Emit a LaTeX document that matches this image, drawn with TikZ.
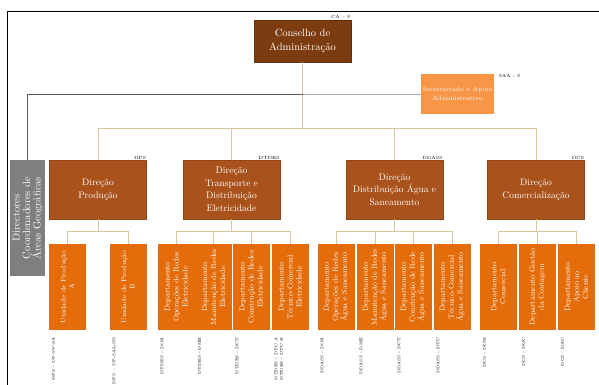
\documentclass[tikz,border=0pt]{standalone}
\usetikzlibrary{positioning}
\definecolor{cabrown}{HTML}{7D3C10}
\definecolor{dirbrown}{HTML}{A9521C}
\definecolor{unitorange}{HTML}{E46C0A}
\definecolor{saaorange}{HTML}{F79646}
\definecolor{gdirgray}{HTML}{7F7F7F}
\definecolor{linktan}{HTML}{D8C79B}
\begin{document}
\begin{tikzpicture}[x=1pt,y=-1pt,
  board/.style={rectangle,fill=cabrown,draw=cabrown!80!black,text=white,align=center,minimum width=97pt,minimum height=42pt,font=\fontsize{10.5}{14}\selectfont},
  staff/.style={rectangle,fill=saaorange,text=white,align=center,minimum width=71pt,minimum height=40pt,inner sep=1pt,font=\fontsize{6.3}{9}\selectfont},
  area/.style={rectangle,rotate=90,fill=gdirgray,text=white,align=center,minimum width=116pt,minimum height=35pt,inner sep=1pt,font=\fontsize{10.5}{10.5}\selectfont},
  dir/.style={rectangle,fill=dirbrown,draw=dirbrown!85!black,text=white,align=center,minimum width=97pt,minimum height=59pt,font=\fontsize{9.5}{12.5}\selectfont},
  unit/.style={rectangle,rotate=90,fill=unitorange,text=white,align=center,minimum width=86pt,minimum height=37pt,inner sep=1pt,font=\fontsize{7.5}{9}\selectfont},
  plant/.style={unit,font=\fontsize{6.8}{8.5}\selectfont},
  tag/.style={inner sep=0.5pt,font=\fontsize{4.5}{5}\selectfont},
  code/.style={rotate=90,inner sep=0pt,align=left,font=\fontsize{4.1}{5.5}\selectfont},
  link/.style={draw=linktan,line width=0.8pt},
  darklink/.style={draw=black!65,line width=0.8pt}]

  \pgfmathsetmacro{\ydir}{189.5} ;
  \pgfmathsetmacro{\yunit}{287} ;

  \useasboundingbox (0,0) rectangle (599,385) ;
  \draw[line width=1pt] (7,385) -- (7,12) -- (599,12) ;

  \node[board] at (302.5, 41)   (ca)    {Conselho de\\Administração} ;
  \node[staff] at (457.5, 94)   (saa)   {Secretariado e Apoio\\Administrativo} ;
  \node[area]  at ( 27.5, 218)  (gdir)  {Directores\\Coordenadores de\\Áreas Geográficas} ;

  \node[dir] at ( 98,   \ydir) (dp)    {Direção\\Produção} ;
  \node[dir] at (231.5, \ydir) (dtde)  {Direção\\Transporte e\\Distribuição\\Eletricidade} ;
  \node[dir] at (394.5, \ydir) (ddass) {Direção\\Distribuição Água e\\Saneamento} ;
  \node[dir] at (536,   \ydir) (dc)    {Direção\\Comercialização} ;

  \node[tag,anchor=south east]           at (ca.north east)    (catag)    {CA -- S} ;
  \node[tag,anchor=north west,xshift=4pt] at (saa.north east)  (saatag)   {SAA - S} ;
  \node[tag,anchor=south east]           at (dp.north east)    (dptag)    {DPS} ;
  \node[tag,anchor=south east]           at (dtde.north east)  (dtdetag)  {DTDES} ;
  \node[tag,anchor=south east]           at (ddass.north east) (ddasstag) {DDASS} ;
  \node[tag,anchor=south east]           at (dc.north east)    (dctag)    {DCS} ;

  \node[plant] at ( 67.5, \yunit) (upa)  {Unidade de Produção\\A} ;
  \node[plant] at (128,   \yunit) (upb)  {Unidade de Produção\\B} ;

  \node[unit] at (176,   \yunit) (edor)  {Departamento\\Operações de Redes\\Eletricidade} ;
  \node[unit] at (213.5, \yunit) (edme)  {Departamento\\Manutenção de Redes\\Eletricidade} ;
  \node[unit] at (251,   \yunit) (edct)  {Departamento\\Construção de Redes\\Eletricidade} ;
  \node[unit] at (290,   \yunit) (edtc)  {Departamento\\Técnico-Comercial\\Eletricidade} ;

  \node[unit] at (336,   \yunit) (ador)  {Departamento\\Operações de Redes\\Água e Saneamento} ;
  \node[unit] at (375,   \yunit) (adme)  {Departamento\\Manutenção de Redes\\Água e Saneamento} ;
  \node[unit] at (413,   \yunit) (adct)  {Departamento\\Construção de Rede\\Água e Saneamento} ;
  \node[unit] at (452,   \yunit) (adtc)  {Departamento\\Técnico-Comercial\\Água e Saneamento} ;

  \node[unit] at (498.5, \yunit) (cdcm)  {Departamento\\Comercial} ;
  \node[unit] at (537.5, \yunit) (cdgc)  {Departamento Gestão\\da Contagem} ;
  \node[unit] at (576.5, \yunit) (cdac)  {Departamento\\Apoio ao\\Cliente} ;

  \node[code,anchor=north east] at ([shift={(3,7)}]upa.north west)  (upacode)  {DPS -- UP-SV-SA} ;
  \node[code,anchor=north east] at ([shift={(3,7)}]upb.north west)  (upbcode)  {DPS -- UP-SAL-SN} ;
  \node[code,anchor=north east] at ([shift={(3,7)}]edor.north west) (edorcode) {DTDES - DOR} ;
  \node[code,anchor=north east] at ([shift={(3,7)}]edme.north west) (edmecode) {DTDES - DME} ;
  \node[code,anchor=north east] at ([shift={(3,7)}]edct.north west) (edctcode) {DTDES - DCT} ;
  \node[code,anchor=north east] at ([shift={(3,7)}]edtc.north west) (edtccode) {DTDES - DTC A\\DTDES - DTC B} ;
  \node[code,anchor=north east] at ([shift={(3,7)}]ador.north west) (adorcode) {DDASS - DOR} ;
  \node[code,anchor=north east] at ([shift={(3,7)}]adme.north west) (admecode) {DDASS - DME} ;
  \node[code,anchor=north east] at ([shift={(3,7)}]adct.north west) (adctcode) {DDASS - DCT} ;
  \node[code,anchor=north east] at ([shift={(3,7)}]adtc.north west) (adtccode) {DDASS - DTC} ;
  \node[code,anchor=north east] at ([shift={(3,7)}]cdcm.north west) (cdcmcode) {DCS - DCM} ;
  \node[code,anchor=north east] at ([shift={(3,7)}]cdgc.north west) (cdgccode) {DCS - DGC} ;
  \node[code,anchor=north east] at ([shift={(3,7)}]cdac.north west) (cdaccode) {DCS - DAC} ;

  \coordinate (dirbus)   at (302.5, 128) ;
  \coordinate (staffbus) at (302.5, 94) ;

  \draw[link]     (ca.south)  -- (dirbus) ;
  \draw[link]     (dp.north)  -- (dp.north |- dirbus) -| (dc.north) ;
  \draw[link]     (dtde.north)  -- (dtde.north |- dirbus) ;
  \draw[link]     (ddass.north) -- (ddass.north |- dirbus) ;
  \draw[darklink] (gdir.east) |- (staffbus) ;
  \draw[draw=black!35,line width=0.8pt] (staffbus) -- (saa.west) ;

  \draw[link] (dp.south)    -- ++(0,13) ;
  \draw[link] (upa.east)    -- ++(0,-12) -| (upb.east) ;
  \draw[link] (dtde.south)  -- ++(0,13) ;
  \draw[link] (edor.east)   -- ++(0,-12) -| (edtc.east) ;
  \draw[link] (edme.east)   -- ++(0,-12) ;
  \draw[link] (edct.east)   -- ++(0,-12) ;
  \draw[link] (ddass.south) -- ++(0,13) ;
  \draw[link] (ador.east)   -- ++(0,-12) -| (adtc.east) ;
  \draw[link] (adme.east)   -- ++(0,-12) ;
  \draw[link] (adct.east)   -- ++(0,-12) ;
  \draw[link] (dc.south)    -- ++(0,13) ;
  \draw[link] (cdcm.east)   -- ++(0,-12) -| (cdac.east) ;
  \draw[link] (cdgc.east)   -- ++(0,-12) ;

\end{tikzpicture}
\end{document}
